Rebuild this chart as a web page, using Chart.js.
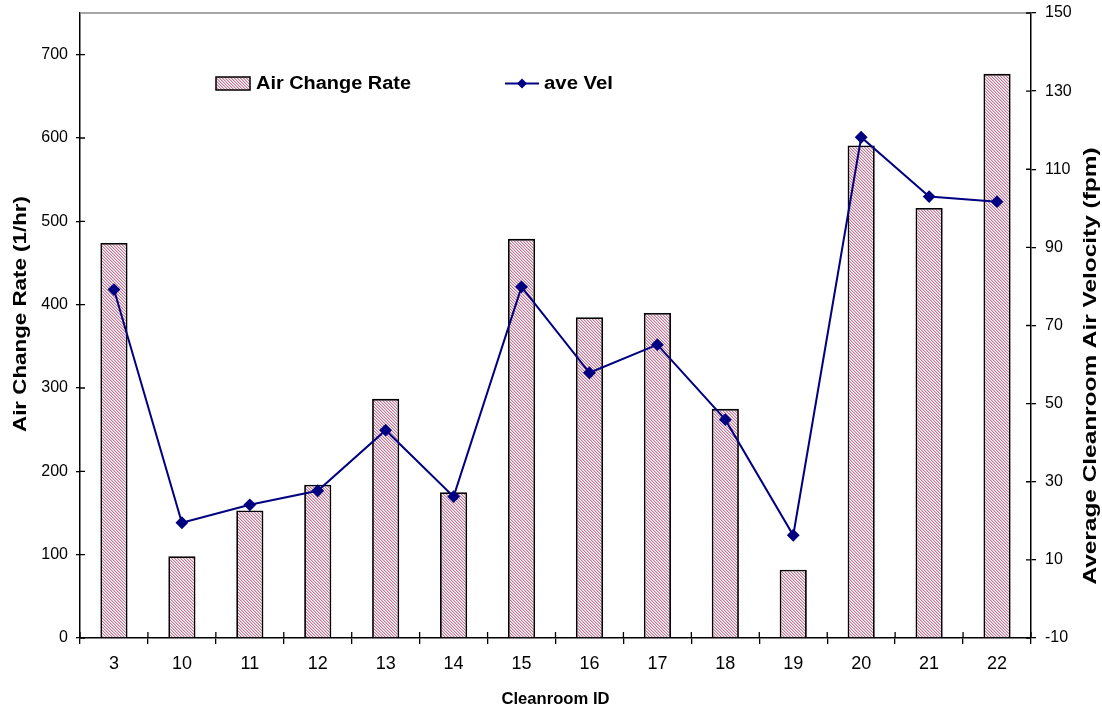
<!doctype html>
<html lang="en">
<head>
<meta charset="utf-8">
<title>Cleanroom – Air Change Rate vs Velocity</title>
<style>
  *{box-sizing:border-box;margin:0;padding:0}
  html,body{width:1102px;height:708px;background:#fff;overflow:hidden}
  #wrap{position:relative;width:1102px;height:708px}
</style>
</head>
<body>
<div id="wrap"><canvas id="chart" width="1102" height="708"></canvas></div>

<script src="https://cdn.jsdelivr.net/npm/chart.js"></script>
<script>
// data
const ROOMS = ['3','10','11','12','13','14','15','16','17','18','19','20','21','22'];
const ACH   = [474, 98, 153, 184, 287, 175, 479, 385, 390, 275, 82, 591, 516, 677];
const VEL   = [79.2, 19.5, 24.1, 27.7, 43.2, 26.2, 79.9, 57.9, 65.1, 45.9, 16.3, 118.2, 103.0, 101.7];
const LEFT_TICKS  = [0,100,200,300,400,500,600,700];
const RIGHT_TICKS = [-10,10,30,50,70,90,110,130,150];

const FONT = "'Liberation Sans', Arial, sans-serif";
const NAVY = '#000080';

const cv = document.getElementById('chart');
const ctx0 = cv.getContext('2d');

// pink diagonal hatch like the old excel fill
function hatch(){
  const c=document.createElement('canvas'); c.width=c.height=3;
  const g=c.getContext('2d');
  g.fillStyle='#fff'; g.fillRect(0,0,3,3);
  for(let i=0;i<3;i++){
    g.fillStyle='#c27694'; g.fillRect(i,i,1,1);
    g.fillStyle='#e8c0cf'; g.fillRect((i+1)%3,i,1,1);
  }
  return ctx0.createPattern(c,'repeat');
}
const HATCH = hatch();

// draw text squeezed/stretched to a given length
function fitText(ctx,text,x,y,len,rot){
  ctx.save(); ctx.translate(x,y); if(rot) ctx.rotate(rot);
  const w=ctx.measureText(text).width; ctx.scale(len/w,1);
  ctx.fillText(text,0,0); ctx.restore();
}

const extras = { id:'extras', afterDatasetsDraw(c){
  const {ctx, chartArea:a, scales:{x,y,y1}} = c;
  ctx.save();
  // top frame line
  ctx.strokeStyle='#888'; ctx.lineWidth=1.5;
  ctx.beginPath(); ctx.moveTo(a.left,a.top); ctx.lineTo(a.right,a.top); ctx.stroke();
  // inner half of the crossing tick marks
  ctx.strokeStyle='#000'; ctx.lineWidth=1.3; ctx.beginPath();
  y.ticks.forEach(t=>{const p=y.getPixelForValue(t.value); ctx.moveTo(a.left,p); ctx.lineTo(a.left+5,p);});
  y1.ticks.forEach(t=>{const p=y1.getPixelForValue(t.value); ctx.moveTo(a.right,p); ctx.lineTo(a.right-5,p);});
  for(let i=0;i<=ROOMS.length;i++){const p=x.getPixelForValue(i-0.5); ctx.moveTo(p,a.bottom); ctx.lineTo(p,a.bottom-6);}
  ctx.stroke();

  // legend
  ctx.fillStyle=HATCH; ctx.fillRect(216,77,34,13);
  ctx.strokeStyle='#000'; ctx.lineWidth=1.5; ctx.strokeRect(216,77,34,13);
  ctx.strokeStyle=NAVY; ctx.lineWidth=2;
  ctx.beginPath(); ctx.moveTo(505,83.5); ctx.lineTo(539,83.5); ctx.stroke();
  ctx.fillStyle=NAVY; ctx.beginPath();
  ctx.moveTo(522,78.5); ctx.lineTo(527,83.5); ctx.lineTo(522,88.5); ctx.lineTo(517,83.5); ctx.closePath(); ctx.fill();
  ctx.fillStyle='#000'; ctx.font='bold 18px '+FONT; ctx.textBaseline='alphabetic'; ctx.textAlign='left';
  fitText(ctx,'Air Change Rate',256,89,155);
  fitText(ctx,'ave Vel',544,89,69);

  // axis titles
  ctx.textAlign='center';
  fitText(ctx,'Air Change Rate (1/hr)',26,314,236,-Math.PI/2);
  fitText(ctx,'Average Cleanroom Air Velocity (fpm)',1096,366,437,-Math.PI/2);
  ctx.font='bold 16px '+FONT;
  fitText(ctx,'Cleanroom ID',(a.left+a.right)/2,704,108);
  ctx.restore();
}};

new Chart(cv,{
  data:{
    labels:ROOMS,
    datasets:[
      {type:'line',label:'ave Vel',data:VEL,yAxisID:'y1',order:0,
       borderColor:NAVY,backgroundColor:NAVY,borderWidth:2,
       pointStyle:'rectRot',pointRadius:5,pointHoverRadius:5,tension:0},
      {type:'bar',label:'Air Change Rate',data:ACH,yAxisID:'y',order:1,
       backgroundColor:HATCH,borderColor:'#000',borderWidth:1.8,
       barPercentage:0.4,categoryPercentage:1}
    ]
  },
  options:{
    responsive:false,animation:false,devicePixelRatio:1,
    layout:{padding:{top:13,left:0,right:0,bottom:0}},
    plugins:{legend:{display:false},tooltip:{enabled:false}},
    scales:{
      x:{
        offset:true,
        grid:{display:true,drawOnChartArea:false,drawTicks:true,tickLength:6,offset:true,color:'#000',lineWidth:1.3},
        border:{color:'#000',width:1.5},
        ticks:{color:'#000',font:{family:FONT,size:18},padding:9,maxRotation:0,autoSkip:false},
        afterFit(s){s.height=70;s.paddingLeft=0;s.paddingRight=0;}
      },
      y:{
        position:'left',min:0,max:750,
        afterBuildTicks(s){s.ticks=LEFT_TICKS.map(v=>({value:v}));},
        grid:{drawOnChartArea:false,drawTicks:true,tickLength:4,color:'#000',lineWidth:1.3},
        border:{color:'#000',width:1.5},
        ticks:{color:'#000',font:{family:FONT,size:16},padding:8},
        afterFit(s){s.width=80;s.paddingTop=0;s.paddingBottom=0;}
      },
      y1:{
        position:'right',min:-10,max:150,
        afterBuildTicks(s){s.ticks=RIGHT_TICKS.map(v=>({value:v}));},
        grid:{drawOnChartArea:false,drawTicks:true,tickLength:5,color:'#000',lineWidth:1.3},
        border:{color:'#000',width:1.5},
        ticks:{color:'#000',font:{family:FONT,size:16},padding:9},
        afterFit(s){s.width=71;s.paddingTop=0;s.paddingBottom=0;}
      }
    }
  },
  plugins:[extras]
});
</script>
</body>
</html>
